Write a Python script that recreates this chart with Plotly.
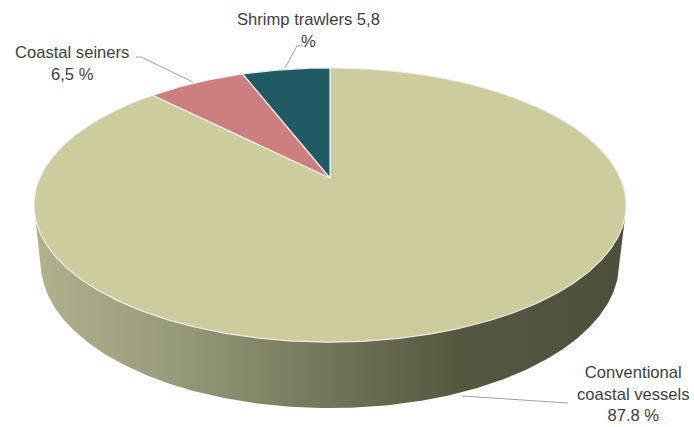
import numpy as np
import plotly.graph_objects as go

# ---- data ----
categories = ["Conventional coastal vessels", "Coastal seiners", "Shrimp trawlers"]
values = [87.8, 6.5, 5.8]
label_texts = ["Conventional<br>coastal vessels<br>87.8 %", "Coastal seiners<br>6,5 %", "Shrimp trawlers 5,8<br>%"]
top_colors = ["#CDCC9C", "#CD7F7F", "#1F5A65"]

# ---- projection of a tilted 3D disc (perspective) ----
W, H = 694, 427
CX, CY = 330.0, 178.0
PHI = np.radians(27.0)
DIST = 4.52
FOCAL = 1312.0
DEPTH = 0.225


def proj(X, Y, Z):
    depth = Y * np.cos(PHI) - Z * np.sin(PHI) + DIST
    yc = Y * np.sin(PHI) + Z * np.cos(PHI)
    return CX + FOCAL * X / depth, CY - FOCAL * yc / depth


def ring(theta, z):
    # theta clockwise from 12 o'clock
    return proj(np.sin(theta), np.cos(theta), z)


fig = go.Figure()

# side wall: convex hull of top & bottom outlines
t = np.linspace(0, 2 * np.pi, 721)
xt, yt = ring(t, 0.0)
xb, yb = ring(t, -DEPTH)
pts = np.vstack([np.column_stack([xt, yt]), np.column_stack([xb, yb])])


def hull(p):
    p = sorted(map(tuple, p))
    def cross(o, a, b):
        return (a[0]-o[0])*(b[1]-o[1]) - (a[1]-o[1])*(b[0]-o[0])
    lower, upper = [], []
    for q in p:
        while len(lower) >= 2 and cross(lower[-2], lower[-1], q) <= 0:
            lower.pop()
        lower.append(q)
    for q in reversed(p):
        while len(upper) >= 2 and cross(upper[-2], upper[-1], q) <= 0:
            upper.pop()
        upper.append(q)
    return np.array(lower[:-1] + upper[:-1])


hp = hull(pts)
fig.add_trace(go.Scatter(
    x=np.append(hp[:, 0], hp[0, 0]), y=np.append(hp[:, 1], hp[0, 1]),
    mode="lines", line=dict(width=0, color="rgba(0,0,0,0)"), fill="toself",
    fillgradient=dict(type="horizontal",
                      colorscale=[[0, "#B2B28E"], [0.25, "#979878"], [0.5, "#727559"],
                                  [0.72, "#55573F"], [1, "#4E503E"]]),
    hoverinfo="skip", showlegend=False))

# top face slices
total = sum(values)
start = 0.0
for cat, v, col in zip(categories, values, top_colors):
    end = start + v / total * 2 * np.pi
    n = max(int((end - start) / (2 * np.pi) * 720), 8)
    th = np.linspace(start, end, n)
    sx, sy = ring(th, 0.0)
    px = np.concatenate([[CX], sx, [CX]])
    py = np.concatenate([[CY], sy, [CY]])
    fig.add_trace(go.Scatter(
        x=px, y=py, mode="lines", fill="toself", fillcolor=col,
        line=dict(color="rgba(240,240,240,0.95)", width=1.2),
        name=cat, hoverinfo="name", showlegend=False))
    start = end

# labels and leader lines
fig.add_trace(go.Scatter(x=[303, 297, 285], y=[46, 46, 68], mode="lines",
                         line=dict(color="#A0A0A0", width=1), hoverinfo="skip", showlegend=False))
fig.add_trace(go.Scatter(x=[136, 141, 193], y=[57, 57, 82], mode="lines",
                         line=dict(color="#A0A0A0", width=1), hoverinfo="skip", showlegend=False))
fig.add_trace(go.Scatter(x=[568, 462], y=[403, 396], mode="lines",
                         line=dict(color="#A0A0A0", width=1), hoverinfo="skip", showlegend=False))

font = dict(family="Liberation Sans, Arial, sans-serif", size=16.6, color="#404040")
fig.add_annotation(x=308, y=30, text=label_texts[2], showarrow=False, font=font,
                   xref="x", yref="y", align="center")
fig.add_annotation(x=72, y=63, text=label_texts[1], showarrow=False, font=font,
                   xref="x", yref="y", align="center")
fig.add_annotation(x=633, y=394, text=label_texts[0], showarrow=False, font=font,
                   xref="x", yref="y", align="center", borderpad=0)

fig.update_layout(
    width=W, height=H, margin=dict(l=0, r=0, t=0, b=0),
    paper_bgcolor="white", plot_bgcolor="white",
    xaxis=dict(range=[0, W], visible=False, fixedrange=True),
    yaxis=dict(range=[H, 0], visible=False, fixedrange=True),
)
fig.write_html("out.html")
